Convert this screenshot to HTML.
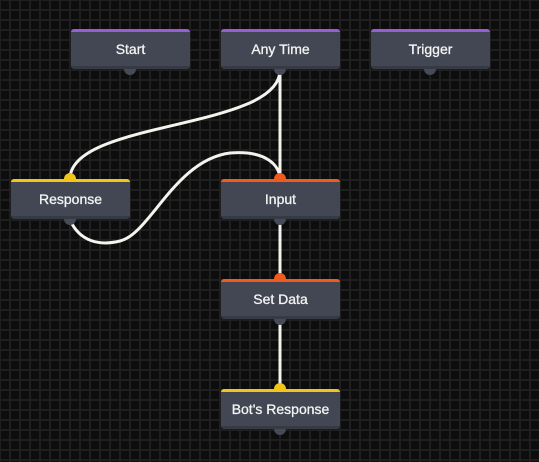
<!DOCTYPE html>
<html><head><style>
html,body{margin:0;padding:0}
body{width:539px;height:462px;overflow:hidden;position:relative;background-color:#0d0d0d;
background-image:linear-gradient(to right,#1f1f1f 0 2px,transparent 2px),linear-gradient(to bottom,#1f1f1f 0 2px,transparent 2px);
background-size:10px 10px;background-position:-1px -1px;font-family:"Liberation Sans",sans-serif}
.n{position:absolute;width:119px;height:40px;background:#424753;border-radius:3px;box-sizing:border-box;border-top:3px solid;border-bottom:3px solid #363a44;color:#f4f4f4;font-size:14px;display:flex;align-items:center;justify-content:center;-webkit-text-stroke:0.3px #f4f4f4}
.p{position:absolute;width:12px;height:12px;border-radius:50%;}
svg{position:absolute;left:0;top:0}
</style></head><body>
<svg width="539" height="462">
<g fill="none" stroke="#f4f4ee" stroke-width="3">
<path d="M280,70 C280,130 70,120 70,179"/>
<path d="M280,70 L280,179"/>
<path d="M70,220 C80,242 100,246 120,241 C150,234 175,160 230,153 C265,150 280,165 280,179"/>
<path d="M280,220 L280,279"/>
<path d="M280,320 L280,389"/>
</g>
</svg>
<div class="p" style="left:124px;top:63px;background:#464b57"></div>
<div class="p" style="left:274px;top:63px;background:#464b57"></div>
<div class="p" style="left:424px;top:63px;background:#464b57"></div>
<div class="p" style="left:64px;top:213px;background:#464b57"></div>
<div class="p" style="left:274px;top:213px;background:#464b57"></div>
<div class="p" style="left:274px;top:313px;background:#464b57"></div>
<div class="p" style="left:274px;top:423px;background:#464b57"></div>
<div class="p" style="left:64px;top:173px;background:#f2c618"></div>
<div class="p" style="left:274px;top:173px;background:#f05a1e"></div>
<div class="p" style="left:274px;top:273px;background:#f05a1e"></div>
<div class="p" style="left:274px;top:383px;background:#f2c618"></div>
<div class="n" style="left:71px;top:29px;border-top-color:#9a5ed4">Start</div>
<div class="n" style="left:221px;top:29px;border-top-color:#9a5ed4">Any Time</div>
<div class="n" style="left:371px;top:29px;border-top-color:#9a5ed4">Trigger</div>
<div class="n" style="left:11px;top:179px;border-top-color:#f2c618">Response</div>
<div class="n" style="left:221px;top:179px;border-top-color:#f05a1e">Input</div>
<div class="n" style="left:221px;top:279px;border-top-color:#f05a1e">Set Data</div>
<div class="n" style="left:221px;top:389px;border-top-color:#f2c618">Bot's Response</div>
</body></html>
